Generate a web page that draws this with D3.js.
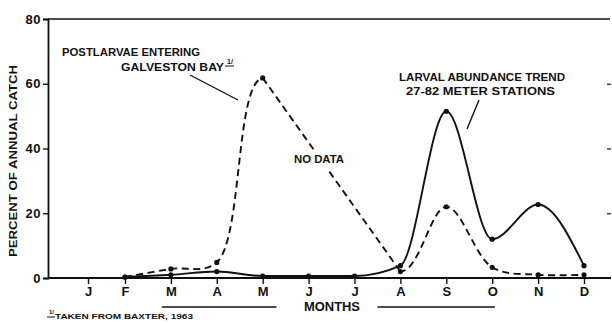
<!DOCTYPE html>
<html lang="en">
<head>
  <meta charset="UTF-8" />
  <title>Percent of annual catch by month</title>
  <script src="https://d3js.org/d3.v7.min.js"></script>
  <style>
    body { margin: 0; background: #fff; }
    svg { display: block; }
    text { font-family: "Liberation Sans", Arial, sans-serif; font-weight: bold; fill: #111; }
    .line { fill: none; stroke: #111; stroke-width: 1.9px; }
    .dash { stroke-dasharray: 7 4.5; }
  </style>
</head>
<body>
<svg id="chart" width="612" height="323"></svg>

<script>
const months = ["J", "F", "M", "A", "M", "J", "J", "A", "S", "O", "N", "D"];

// larval abundance trend, 27-82 meter stations (solid)
const larvalIdx = [1, 2, 3, 4, 5, 6, 7, 8, 9, 10, 11];
const larvalVal = [0.3, 1, 2, 0.6, 0.6, 0.6, 3.8, 51.5, 12, 22.7, 3.8];

// postlarvae entering Galveston Bay (dashed), no data in June-July
const postIdx = [1, 2, 3, 4, 7, 8, 9, 10, 11];
const postVal = [0.3, 2.8, 4.8, 61.8, 2, 22, 3.3, 1, 1];

const yTicks = [0, 20, 40, 60, 80];
// bars under the month axis (month positions)
const bars = [[1.8, 4.3], [6.5, 9.06]];

const svg = d3.select("#chart");
const x = d3.scaleLinear().domain([0, 1, 11]).range([88, 125, 584]);
const y = d3.scaleLinear().domain([0, 80]).range([278, 19]);
const left = 48, right = 611;

// frame: top line
svg.append("line")
  .attr("x1", left).attr("x2", 610).attr("y1", y(80)).attr("y2", y(80))
  .attr("stroke", "#111").attr("stroke-width", 1.6);

// y axis
const yAxis = svg.append("g")
  .attr("transform", `translate(${left},0)`)
  .call(d3.axisLeft(y).tickValues(yTicks).tickSize(5).tickPadding(2));
yAxis.select(".domain").attr("stroke", "#111").attr("stroke-width", 1.8);
yAxis.selectAll(".tick line").attr("stroke", "#111").attr("stroke-width", 1.4);
yAxis.selectAll(".tick text")
  .style("font-size", "13px").attr("letter-spacing", "0.5").attr("fill", "#111");

// small ticks on the right side
svg.append("g")
  .attr("transform", `translate(${right},0)`)
  .call(d3.axisLeft(y).tickValues([20, 40, 60]).tickSize(4).tickFormat(""))
  .call(g => g.select(".domain").remove())
  .selectAll("line").attr("stroke", "#111").attr("stroke-width", 1.2);

// x axis
const xAxis = svg.append("g")
  .attr("transform", `translate(0,${y(0)})`)
  .call(d3.axisBottom(x).tickValues(d3.range(12)).tickSize(6).tickPadding(3)
    .tickFormat(i => months[i]));
xAxis.select(".domain").attr("d", `M${left},0H${right}`)
  .attr("stroke", "#111").attr("stroke-width", 1.8);
xAxis.selectAll(".tick line").attr("stroke", "#111").attr("stroke-width", 1.4);
xAxis.selectAll(".tick text").style("font-size", "13px").attr("fill", "#111");

// bars under the axis
svg.selectAll(".bar").data(bars).enter().append("line")
  .attr("x1", d => x(d[0])).attr("x2", d => x(d[1]))
  .attr("y1", 307).attr("y2", 307)
  .attr("stroke", "#111").attr("stroke-width", 1.4);

// clip paths for the dashed curve: skip the no-data span
const xMay = x(4), xAug = x(7);
const defs = svg.append("defs");
const clip = defs.append("clipPath").attr("id", "gapclip");
clip.append("rect").attr("x", 0).attr("y", 0).attr("width", xMay).attr("height", 323);
clip.append("rect").attr("x", xAug).attr("y", 0).attr("width", 612 - xAug).attr("height", 323);

const curve = d3.line().x(d => x(d[0])).y(d => y(d[1])).curve(d3.curveMonotoneX);
const curveDash = d3.line().x(d => x(d[0])).y(d => y(d[1])).curve(d3.curveCatmullRom.alpha(0.5));
const straight = d3.line().x(d => x(d[0])).y(d => y(d[1]));

const larval = larvalIdx.map((m, i) => [m, larvalVal[i]]);
const post = postIdx.map((m, i) => [m, postVal[i]]);

svg.append("path").datum(larval).attr("class", "line").attr("d", curve);

svg.append("path").datum(post).attr("class", "line dash")
  .attr("clip-path", "url(#gapclip)").attr("d", curveDash);
svg.append("path").datum(post.filter(d => d[0] === 4 || d[0] === 7))
  .attr("class", "line dash").attr("d", straight);

// points
svg.selectAll(".pt").data(larval.concat(post)).enter().append("circle")
  .attr("cx", d => x(d[0])).attr("cy", d => y(d[1])).attr("r", 2.6).attr("fill", "#111");

// annotations
function label(txt, x0, base, len, size) {
  return svg.append("text").attr("x", x0).attr("y", base)
    .attr("textLength", len).attr("lengthAdjust", "spacingAndGlyphs")
    .style("font-size", size + "px").text(txt);
}
label("POSTLARVAE  ENTERING", 62, 56, 138, 10);
label("GALVESTON  BAY", 121, 71, 103, 10);
svg.append("text").attr("x", 227).attr("y", 64).style("font-size", "7px").text("1/");
svg.append("line").attr("x1", 225).attr("x2", 234).attr("y1", 66).attr("y2", 66)
  .attr("stroke", "#111").attr("stroke-width", 1);
svg.append("line").attr("x1", 190).attr("y1", 75).attr("x2", 238).attr("y2", 100)
  .attr("stroke", "#111").attr("stroke-width", 1.4);

// the dashed line is broken where the label sits
svg.append("rect").attr("x", 290).attr("y", 150).attr("width", 58).attr("height", 19)
  .attr("fill", "#fff");
label("NO  DATA", 294, 163, 50, 10);

label("LARVAL  ABUNDANCE  TREND", 399, 81, 166, 10);
label("27-82  METER  STATIONS", 406, 95, 149, 10);
svg.append("line").attr("x1", 479).attr("y1", 100).attr("x2", 467).attr("y2", 129)
  .attr("stroke", "#111").attr("stroke-width", 1.4);

label("MONTHS", 304, 311, 56, 12.5);

svg.append("text").attr("x", 49).attr("y", 314).style("font-size", "6px").text("1/");
svg.append("line").attr("x1", 47).attr("x2", 55).attr("y1", 317).attr("y2", 317)
  .attr("stroke", "#111").attr("stroke-width", 1);
label("TAKEN  FROM  BAXTER, 1963", 55, 319, 138, 7.5);

svg.append("text")
  .attr("transform", "translate(17,161) rotate(-90)")
  .attr("text-anchor", "middle")
  .attr("textLength", 192).attr("lengthAdjust", "spacingAndGlyphs")
  .style("font-size", "11.5px")
  .text("PERCENT  OF  ANNUAL  CATCH");
</script>

</body>
</html>
